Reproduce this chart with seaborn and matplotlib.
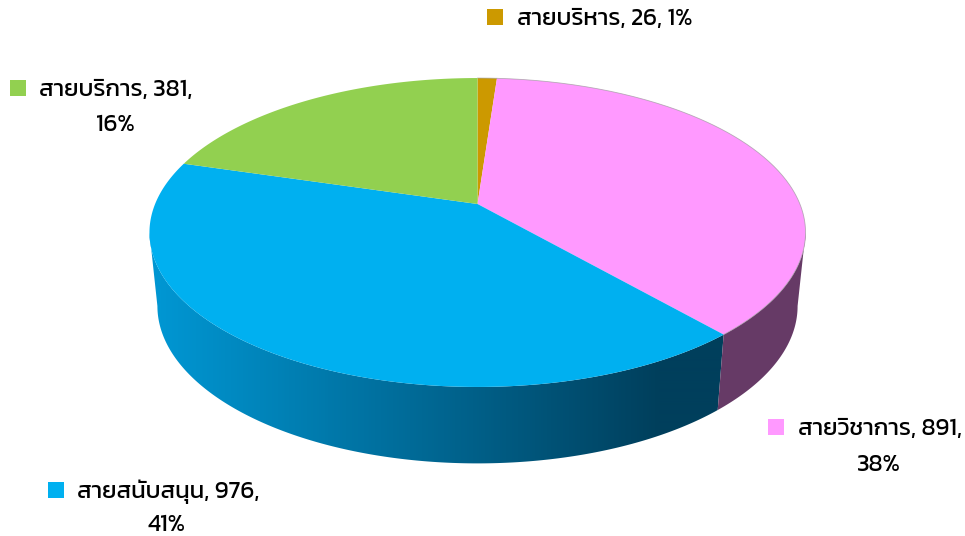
import numpy as np
import matplotlib
matplotlib.use("Agg")
import matplotlib.pyplot as plt
from matplotlib.patches import Polygon
import seaborn as sns

# slices clockwise from 12 o'clock
categories = ["สายบริหาร", "สายวิชาการ", "สายสนับสนุน", "สายบริการ"]
values = [26, 891, 976, 381]
percents = [1, 38, 41, 16]
drawn_sweep = [4.1, 134.8, 147.6, 73.5]

colors = sns.color_palette(["#CC9900", "#FF99FF", "#00B0F0", "#92D050"])
wall_pink = "#663A66"
wall_blue = sns.blend_palette(["#0096D2", "#006B98", "#003F5C"], n_colors=256, as_cmap=True)

# perspective of the disc, in pixels
cx, cy = 477.5, 204.0
half_w, half_h, tilt = 322.4, 149.2, 0.1845
low_w, low_h, low_cy = 314.6, 152.0, 277.0
# angle where the disc is widest on screen, the wall silhouette ends there
side_angle = np.pi - np.arccos(tilt)


def project(angle, w_px=half_w, h_px=half_h, y0=cy):
    x, y = np.sin(angle), np.cos(angle)
    w = 1 + tilt * y
    return cx + w_px * x / w, y0 - h_px * y / w


def wall_outline(start, stop):
    steps = np.linspace(start, stop, 200)
    top_x, top_y = project(steps)
    low_x, low_y = project(steps[::-1], low_w, low_h, low_cy)
    return np.column_stack([np.r_[top_x, low_x], np.r_[top_y, low_y]])


sns.set_theme(style="white")
plt.rcParams["font.family"] = ["Kanit", "DejaVu Sans"]

fig = plt.figure(figsize=(9.65, 5.36), dpi=100)
ax = fig.add_axes([0, 0, 1, 1])
ax.set_xlim(0, 965)
ax.set_ylim(536, 0)
ax.set_axis_off()

edges = np.radians(np.concatenate([[0], np.cumsum(drawn_sweep)]))

# side wall first, the top face covers the rest
ax.add_patch(Polygon(wall_outline(side_angle, edges[2]), closed=True, color=wall_pink, lw=0))

blue_wall = Polygon(wall_outline(edges[2], 2 * np.pi - side_angle), closed=True, fc="none", lw=0)
ax.add_patch(blue_wall)
gradient = np.clip((np.arange(140, 760) - 160) / (660 - 160), 0, 1)[None, :]
image = ax.imshow(gradient, cmap=wall_blue, vmin=0, vmax=1, extent=(140, 760, 480, 150),
                  aspect="auto", interpolation="bilinear")
image.set_clip_path(blue_wall)
ax.set_xlim(0, 965)
ax.set_ylim(536, 0)

# top face
for i, color in enumerate(colors):
    steps = np.linspace(edges[i], edges[i + 1], 200)
    arc_x, arc_y = project(steps)
    ax.fill(np.r_[cx, arc_x], np.r_[cy, arc_y], color=color, lw=0, zorder=3)
    if i < 2:
        ax.plot(arc_x, arc_y, color="#9A9A9A", lw=0.6, alpha=0.7, zorder=3)

# labels: swatch left edge, text left edge, line centres, centre of the second line
label_pos = [(487, 517, 17, None, None), (768, 798, 427, 465, 879),
             (48, 77, 490, 525, 167), (10, 39, 88, 125, 115)]
for i, (sx, tx, y1, y2, xc) in enumerate(label_pos):
    ax.fill([sx, sx + 16, sx + 16, sx], [y1 - 8, y1 - 8, y1 + 8, y1 + 8], color=colors[i], lw=0)
    if y2 is None:
        first = f"{categories[i]}, {values[i]}, {percents[i]}%"
    else:
        first = f"{categories[i]}, {values[i]},"
        ax.text(xc, y2, f"{percents[i]}%", fontsize=17.3, color="black", ha="center", va="center")
    ax.text(tx, y1 + 2, first, fontsize=17.3, color="black", ha="left", va="center")

fig.savefig("out.png", dpi=100)
